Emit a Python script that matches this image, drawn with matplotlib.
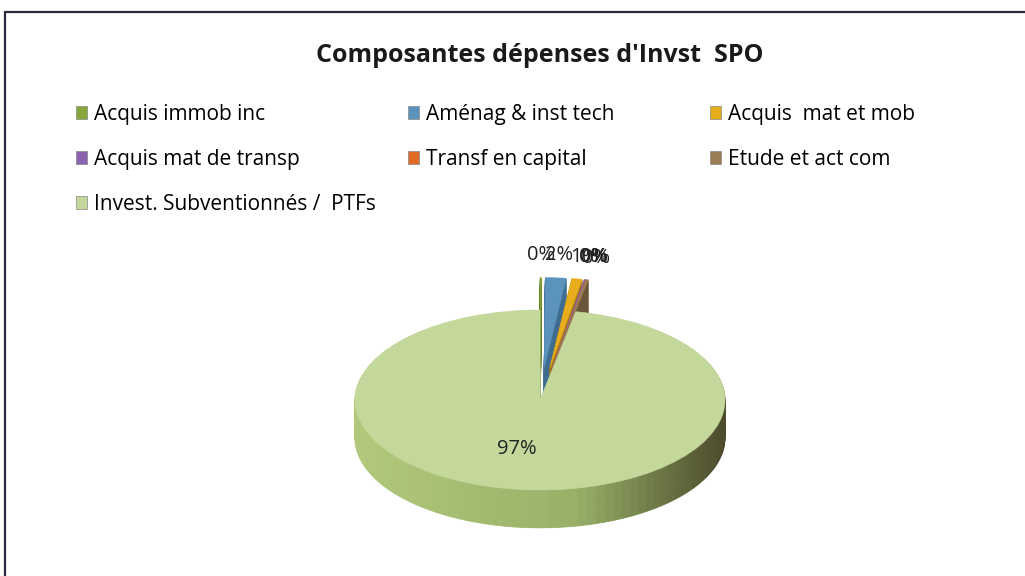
import numpy as np
import matplotlib.pyplot as plt
from matplotlib.patches import Patch, Rectangle
from matplotlib.colors import to_rgb

plt.rcParams['font.family'] = ['Open Sans', 'DejaVu Sans']

# data
names = ['Acquis immob inc', 'Aménag & inst tech', 'Acquis  mat et mob',
         'Acquis mat de transp', 'Transf en capital', 'Etude et act com',
         'Invest. Subventionnés /  PTFs']
values = [0.1, 1.8, 0.9, 0.1, 0.0, 0.2, 96.9]
colors = ['#86a83a', '#5b93bd', '#e8ad1c', '#8a62b0', '#e06a26', '#9a7d55', '#c5d89c']
side_small = ['#5f7a25', '#3f6c8f', '#a87c10', '#5e4080', '#a04a18', '#6a5538']
explode_small = 0.36

total = sum(values)
pct = [v / total * 100 for v in values]
labels = ['%.0f%%' % p for p in pct]

W, H = 1025, 576
fig = plt.figure(figsize=(W / 100, H / 100), dpi=100)
ax = fig.add_axes([0, 0, 1, 1])
ax.axis('off')

# pie geometry in pixels (3d tilt by stretching the axes)
cx, cy = 540, 576 - 400
rx, ry = 185, 90
depth = 0.42

# split the big slice so the side can be shaded by angle
nsub = 120
layer_vals = values[:-1] + [values[-1] / nsub] * nsub
layer_expl = [explode_small] * 6 + [0] * nsub

light = np.array(to_rgb('#b2c97c'))
mid = np.array(to_rgb('#98b068'))
dark = np.array(to_rgb('#4c4b2c'))


def side_col(a):
    t = (np.cos(np.radians(a)) + 1) / 2
    if t < 0.6:
        return light + (mid - light) * t / 0.6
    return mid + (dark - mid) * (t - 0.6) / 0.4


nl = 40
for k in range(nl):
    off = -depth * (1 - k / nl)
    wl = ax.pie(layer_vals, explode=layer_expl, startangle=90, counterclock=False,
                center=(0, off), radius=1, wedgeprops={'linewidth': 0.6})[0]
    for i, w in enumerate(wl):
        if i < 6:
            c = side_small[i]
        else:
            c = side_col((w.theta1 + w.theta2) / 2)
        w.set_facecolor(c)
        w.set_edgecolor(c)

# top faces
wedges, texts, autotexts = ax.pie(
    values, explode=[explode_small] * 6 + [0], startangle=90, counterclock=False,
    colors=colors, labels=[l if p < 50 else '' for l, p in zip(labels, pct)],
    labeldistance=1.25,
    autopct=lambda p: '%.0f%%' % p if p > 50 else '', pctdistance=0.55,
    textprops={'fontsize': 14.5, 'color': '#222222'},
    wedgeprops={'linewidth': 0.4})
for w in wedges:
    w.set_edgecolor(w.get_facecolor())
for t in texts:
    t.set_ha('center')
    t.set_va('center')
for t in autotexts:
    x, y = t.get_position()
    t.set_position((x - 0.07, y))

ax.set_aspect('auto')
ax.set_xlim(-cx / rx, (W - cx) / rx)
ax.set_ylim(-cy / ry, (H - cy) / ry)

# frame of the chart area
fig.patches.append(Rectangle((5 / W, -0.05), 1.1, 1 - 12 / H + 0.05, transform=fig.transFigure,
                             fill=False, edgecolor='#2a2a40', linewidth=1.6))

fig.text(540 / W, 1 - 55 / H, "Composantes dépenses d'Invst  SPO", ha='center', va='center',
         fontsize=18, fontweight='bold', color='#1a1a1a')

# legend, filled row by row as in the original
cols_x = [76, 408, 710]
for c in range(3):
    idx = [i for i in range(len(names)) if i % 3 == c]
    handles = [Patch(facecolor=colors[i], edgecolor='#888888', linewidth=0.5) for i in idx]
    fig.legend(handles, [names[i] for i in idx], loc='upper left',
               bbox_to_anchor=(cols_x[c] / W, 1 - 104 / H), frameon=False,
               fontsize=15, handlelength=0.55, handleheight=0.55, handletextpad=0.3,
               labelspacing=1.15, borderaxespad=0, borderpad=0)

fig.savefig('out.png', dpi=100, facecolor='white')
